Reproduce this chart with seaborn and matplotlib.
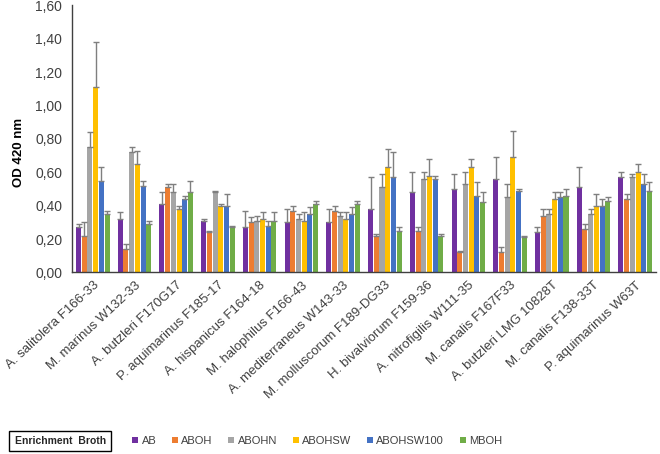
import pandas as pd
import seaborn as sns
import matplotlib.pyplot as plt
from matplotlib.patches import Patch

# strains and broth types
strains = ['A. salitolera F166-33', 'M. marinus W132-33', 'A. butzleri F170G17',
           'P. aquimarinus F185-17', 'A. hispanicus F164-18', 'M. halophilus F166-43',
           'A. mediterraneus W143-33', 'M. molluscorum F189-DG33', 'H. bivalviorum F159-36',
           'A. nitrofigilis W111-35', 'M. canalis F167F33', 'A. butzleri LMG 10828T',
           'M. canalis F138-33T', 'P. aquimarinus W63T']
broths = ['AB', 'ABOH', 'ABOHN', 'ABOHSW', 'ABOHSW100', 'MBOH']
colors = ['#7030A0', '#ED7D31', '#A5A5A5', '#FFC000', '#4472C4', '#70AD47']

# mean OD values
AB = [0.27, 0.32, 0.41, 0.31, 0.27, 0.30, 0.30, 0.38, 0.48, 0.50, 0.56, 0.24, 0.51, 0.57]
ABOH = [0.22, 0.14, 0.51, 0.24, 0.30, 0.37, 0.37, 0.22, 0.25, 0.12, 0.12, 0.34, 0.26, 0.44]
ABOHN = [0.75, 0.72, 0.48, 0.48, 0.31, 0.32, 0.34, 0.51, 0.56, 0.53, 0.45, 0.35, 0.35, 0.57]
ABOHSW = [1.11, 0.65, 0.38, 0.40, 0.32, 0.31, 0.32, 0.63, 0.58, 0.63, 0.69, 0.44, 0.40, 0.60]
ABOHSW100 = [0.55, 0.52, 0.44, 0.40, 0.28, 0.35, 0.35, 0.57, 0.56, 0.46, 0.49, 0.45, 0.40, 0.53]
MBOH = [0.35, 0.29, 0.48, 0.27, 0.31, 0.41, 0.41, 0.25, 0.22, 0.42, 0.21, 0.46, 0.43, 0.49]

# standard deviations (upper error bars)
AB_sd = [0.02, 0.04, 0.07, 0.01, 0.10, 0.08, 0.08, 0.19, 0.12, 0.09, 0.13, 0.03, 0.12, 0.03]
ABOH_sd = [0.08, 0.03, 0.02, 0.01, 0.03, 0.03, 0.03, 0.01, 0.02, 0.01, 0.03, 0.04, 0.03, 0.03]
ABOHN_sd = [0.09, 0.03, 0.05, 0.01, 0.03, 0.03, 0.02, 0.08, 0.04, 0.07, 0.08, 0.03, 0.03, 0.02]
ABOHSW_sd = [0.27, 0.08, 0.02, 0.01, 0.04, 0.05, 0.04, 0.11, 0.10, 0.05, 0.16, 0.04, 0.07, 0.05]
ABOHSW100_sd = [0.08, 0.03, 0.02, 0.07, 0.03, 0.04, 0.04, 0.15, 0.02, 0.08, 0.01, 0.03, 0.04, 0.06]
MBOH_sd = [0.02, 0.02, 0.07, 0.01, 0.05, 0.02, 0.02, 0.02, 0.01, 0.06, 0.01, 0.04, 0.02, 0.05]

means = [AB, ABOH, ABOHN, ABOHSW, ABOHSW100, MBOH]
sds = [AB_sd, ABOH_sd, ABOHN_sd, ABOHSW_sd, ABOHSW100_sd, MBOH_sd]

rows = []
for b, m, s in zip(broths, means, sds):
    for st, v, e in zip(strains, m, s):
        rows.append({'strain': st, 'broth': b, 'od': v, 'sd': e})
df = pd.DataFrame(rows)

sns.set_style('white')
plt.rcParams['font.family'] = ['Liberation Sans', 'DejaVu Sans']

fig = plt.figure(figsize=(6.6, 4.54), dpi=100)
ax = fig.add_axes([0.109, 0.40, 0.885, 0.588])

sns.barplot(data=df, x='strain', y='od', hue='broth', order=strains, hue_order=broths,
            palette=colors, width=0.82, gap=0.12, errorbar=None, saturation=1,
            linewidth=0, legend=False, ax=ax)

# upper error bars from the drawn bars
for cont, b in zip(ax.containers, broths):
    sub = df[df['broth'] == b].set_index('strain').loc[strains]
    xs = [p.get_x() + p.get_width() / 2 for p in cont.patches]
    ax.errorbar(xs, sub['od'].values, yerr=[[0] * len(xs), sub['sd'].values],
                fmt='none', ecolor='#7F7F7F', elinewidth=1, capsize=2.5, capthick=1)

ax.set_ylim(0, 1.6)
ax.set_xlim(-0.5, len(strains) - 0.5)
yt = [i * 0.2 for i in range(9)]
ax.set_yticks(yt)
ax.set_yticklabels([f'{v:.2f}'.replace('.', ',') for v in yt], fontsize=10, color='#404040')
ax.set_xticks(range(len(strains)))
ax.set_xticklabels(strains, rotation=43, ha='right', rotation_mode='anchor',
                   fontsize=9.5, color='#404040')
ax.tick_params(axis='y', length=0, pad=7)
ax.tick_params(axis='x', length=0, pad=5)
ax.set_xlabel('')
ax.set_ylabel('OD 420 nm', fontsize=9.5, fontweight='bold', color='black')
ax.yaxis.set_label_coords(-0.08, 0.45)
for sp in ['top', 'right']:
    ax.spines[sp].set_visible(False)
for sp in ['left', 'bottom']:
    ax.spines[sp].set_color('#404040')
    ax.spines[sp].set_linewidth(1)

fig.text(0.022, 0.029, 'Enrichment  Broth', fontsize=7.5, fontweight='bold', va='center',
         bbox=dict(boxstyle='square,pad=0.5', fc='white', ec='black', lw=1))

handles = [Patch(facecolor=c, edgecolor='none', label=b) for b, c in zip(broths, colors)]
fig.legend(handles=handles, loc='center left', bbox_to_anchor=(0.185, 0.029), ncol=6,
           frameon=False, fontsize=8, handlelength=0.55, handleheight=0.55,
           handletextpad=0.3, columnspacing=1.4, labelcolor='#404040')

fig.savefig('out.png', dpi=100)
